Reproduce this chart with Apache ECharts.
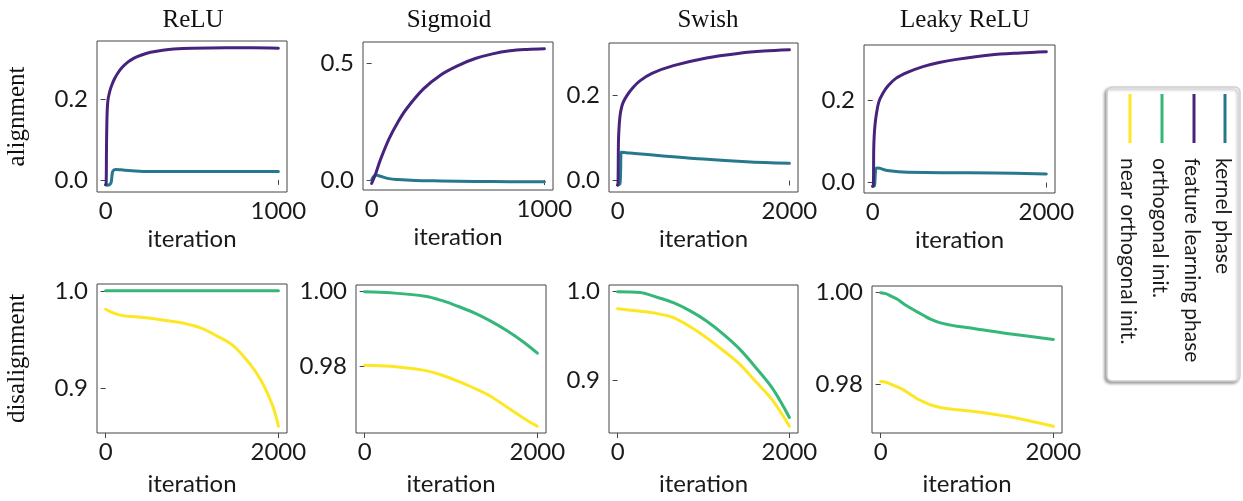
<!DOCTYPE html>
<html><head><meta charset="utf-8">
<script src="https://cdn.jsdelivr.net/npm/echarts@6/dist/echarts.min.js"></script>
<style>html,body{margin:0;padding:0;background:#fff}#c{width:1243px;height:501px}</style>
</head><body><div id="c"></div>
<script>
// ---- text ----
const colTitles = ['ReLU', 'Sigmoid', 'Swish', 'Leaky ReLU'];
const rowNames = ['alignment', 'disalignment'];
const legendNames = ['kernel phase', 'feature learning phase', 'orthogonal init.', 'near orthogonal init.'];

// ---- data (iteration, value) ----
const reluKernel = [[0,-0.012],[10,-0.013],[22,-0.012],[32,-0.006],[40,0.02],[50,0.025],[60,0.026],[90,0.025],[150,0.023],[250,0.021],[400,0.021],[700,0.021],[1000,0.021]];
const reluFeature = [[0,-0.012],[3,-0.01],[5,0.08],[7,0.14],[10,0.18],[14,0.2],[20,0.213],[28,0.226],[37,0.237],[50,0.25],[70,0.265],[95,0.279],[130,0.293],[162,0.302],[200,0.309],[260,0.317],[330,0.322],[395,0.325],[500,0.327],[700,0.328],[850,0.328],[1000,0.327]];
const sigKernel = [[0,0.0],[10,0.014],[25,0.021],[50,0.016],[100,0.006],[150,0.002],[250,-0.002],[400,-0.004],[600,-0.006],[800,-0.007],[1000,-0.008]];
const sigFeature = [[0,-0.014],[20,0.02],[50,0.085],[100,0.175],[150,0.245],[200,0.303],[300,0.39],[400,0.45],[500,0.49],[600,0.52],[700,0.54],[800,0.553],[900,0.559],[1000,0.562]];
const swishKernel = [[0,-0.01],[25,-0.009],[35,0.02],[42,0.066],[100,0.065],[200,0.063],[500,0.058],[1000,0.05],[1500,0.044],[2000,0.04]];
const swishFeature = [[0,-0.011],[5,-0.008],[10,0.09],[16,0.12],[24,0.142],[35,0.16],[60,0.18],[108,0.198],[180,0.217],[263,0.233],[400,0.25],[649,0.268],[1035,0.286],[1421,0.297],[1700,0.302],[2000,0.305]];
const leakyKernel = [[0,-0.009],[20,-0.008],[30,0.02],[38,0.034],[60,0.035],[150,0.03],[300,0.026],[400,0.025],[800,0.024],[1400,0.023],[2000,0.021]];
const leakyFeature = [[0,-0.009],[8,-0.008],[12,0.08],[18,0.115],[28,0.142],[42,0.165],[70,0.195],[116,0.216],[180,0.235],[271,0.253],[400,0.267],[579,0.281],[766,0.291],[966,0.2985],[1351,0.309],[1700,0.314],[2000,0.317]];

const reluOrth = [[0,1.0],[500,1.0],[1000,1.0],[1500,1.0],[2000,1.0]];
const reluNear = [[0,0.981],[80,0.9775],[170,0.975],[300,0.9735],[519,0.9718],[700,0.9695],[905,0.9666],[1100,0.962],[1293,0.9535],[1486,0.943],[1679,0.924],[1795,0.9087],[1873,0.895],[1950,0.878],[2000,0.861]];
const sigOrth = [[0,1.0],[300,0.9997],[700,0.9988],[900,0.9976],[1080,0.9961],[1270,0.9943],[1460,0.9921],[1650,0.9895],[1850,0.9863],[2000,0.9835]];
const sigNear = [[0,0.9803],[300,0.98],[694,0.9789],[900,0.9776],[1080,0.976],[1270,0.9741],[1462,0.9719],[1650,0.969],[1846,0.966],[2000,0.9639]];
const swishOrth = [[0,1.0],[263,0.999],[450,0.994],[649,0.9876],[850,0.978],[1035,0.9668],[1230,0.952],[1421,0.935],[1610,0.914],[1807,0.89],[2000,0.8576]];
const swishNear = [[0,0.9808],[263,0.978],[450,0.9755],[649,0.9707],[850,0.960],[1035,0.948],[1230,0.9335],[1421,0.918],[1610,0.898],[1807,0.8767],[2000,0.8477]];
const leakyOrth = [[0,1.0],[60,0.9998],[116,0.9993],[190,0.9986],[269,0.99754],[350,0.9966],[423,0.9958],[500,0.995],[577,0.9942],[692,0.99339],[885,0.99265],[1077,0.99217],[1462,0.99109],[2000,0.98978]];
const leakyNear = [[0,0.98057],[60,0.9804],[116,0.98],[190,0.9794],[269,0.9787],[350,0.9777],[423,0.9768],[500,0.9761],[577,0.9755],[692,0.9749],[885,0.9744],[1077,0.97405],[1462,0.97296],[2000,0.97078]];

// ---- tick labels ----
const xTickValues = [[0,1000],[0,1000],[0,2000],[0,2000],[0,2000],[0,2000],[0,2000],[0,2000]];
const yTickValues = [[0,0.2],[0,0.5],[0,0.2],[0,0.2],[0.9,1.0],[0.98,1.0],[0.9,1.0],[0.98,1.0]];
const yTickDecimals = [1,1,1,1,1,2,1,2];

// ---- styling / layout ----
const colors = ['#26798d', '#46237c', '#35b779', '#fde725'];
const panelSeries = [
  [[reluKernel,0],[reluFeature,1]],
  [[sigKernel,0],[sigFeature,1]],
  [[swishKernel,0],[swishFeature,1]],
  [[leakyKernel,0],[leakyFeature,1]],
  [[reluOrth,2],[reluNear,3]],
  [[sigOrth,2],[sigNear,3]],
  [[swishOrth,2],[swishNear,3]],
  [[leakyOrth,2],[leakyNear,3]]
];
const gridBoxes = [
  [97,41,190,151],[363,42,190,148],[609,43,189,149],[864,45,191,148],
  [97,284,190,149],[356,285,190,148],[609,285,189,148],[872,286,190,147]
];
const titleX = [188, 444, 703, 960];
const tickFont = 'Lato';

const grids = [], xAxes = [], yAxes = [], series = [];
gridBoxes.forEach((b, i) => {
  grids.push({left:b[0], top:b[1], width:b[2], height:b[3], show:true, borderColor:'#444', borderWidth:1, containLabel:false});
  let lo = Infinity, hi = -Infinity, xm = 0;
  panelSeries[i].forEach(([d]) => d.forEach(p => { lo = Math.min(lo, p[1]); hi = Math.max(hi, p[1]); xm = Math.max(xm, p[0]); }));
  const r = hi - lo;
  const row = i < 4 ? 0 : 1;
  xAxes.push({
    type:'value', gridIndex:i, min:-0.05*xm, max:1.05*xm,
    axisLine:{show:false}, splitLine:{show:false},
    axisTick:{show:true, length:5, lineStyle:{color:'#444', width:1}, customValues:xTickValues[i]},
    axisLabel:{margin:7, fontFamily:tickFont, fontSize:24, color:'#1a1a1a', customValues:xTickValues[i], formatter:v => String(Math.round(v))},
    name:'iteration', nameLocation:'middle', nameGap: row===0 ? 35 : 39,
    nameTextStyle:{fontFamily:tickFont, fontSize:24, color:'#1a1a1a'}
  });
  const dec = yTickDecimals[i];
  const ya = {
    type:'value', gridIndex:i, min:lo-0.05*r, max:hi+0.05*r,
    axisLine:{show:false}, splitLine:{show:false},
    axisTick:{show:true, length:5, lineStyle:{color:'#444', width:1}, customValues:yTickValues[i]},
    axisLabel:{margin:9, fontFamily:tickFont, fontSize:24, color:'#1a1a1a', customValues:yTickValues[i], formatter:v => v.toFixed(dec)}
  };
  if (i % 4 === 0) {
    ya.name = rowNames[row];
    ya.nameLocation = 'middle';
    ya.nameGap = 67;
    ya.nameTextStyle = {fontFamily:'Liberation Serif', fontSize:25, color:'#111'};
  }
  yAxes.push(ya);
  panelSeries[i].forEach(([d, ci]) => {
    series.push({
      type:'line', name:legendNames[ci], xAxisIndex:i, yAxisIndex:i, data:d,
      symbol:'none', showSymbol:false, smooth:0.35,
      lineStyle:{width:3, color:colors[ci], cap:'round', join:'round'}, itemStyle:{color:colors[ci]},
      emphasis:{disabled:true}, animation:false
    });
  });
});

const titles = colTitles.map((t, i) => ({
  text:t, left:titleX[i], top:3, textAlign:'center',
  textStyle:{fontFamily:'Liberation Serif', fontSize:25, fontWeight:'normal', color:'#111'}
}));

// rotated legend drawn as graphic
const legX = [1225, 1194, 1162, 1130];
const graphic = [{
  type:'rect', shape:{x:1107, y:87, width:133, height:294, r:5},
  style:{fill:'#fff', stroke:'#cfcfcf', lineWidth:1.5, shadowBlur:3, shadowOffsetX:-2, shadowOffsetY:2, shadowColor:'rgba(0,0,0,0.35)'}, z:10
}];
legendNames.forEach((n, k) => {
  graphic.push({type:'line', shape:{x1:legX[k], y1:94, x2:legX[k], y2:143}, style:{stroke:colors[k], lineWidth:3}, z:11});
  graphic.push({type:'text', x:legX[k]-2, y:158, rotation:-Math.PI/2,
    style:{text:n, font:'21px Lato', fill:'#1a1a1a', textAlign:'left', textVerticalAlign:'middle'}, z:11});
});

const chart = echarts.init(document.getElementById('c'), null, {renderer:'canvas'});
chart.setOption({
  animation:false, backgroundColor:'#fff',
  title:titles, grid:grids, xAxis:xAxes, yAxis:yAxes, series:series, graphic:graphic
});
</script></body></html>
